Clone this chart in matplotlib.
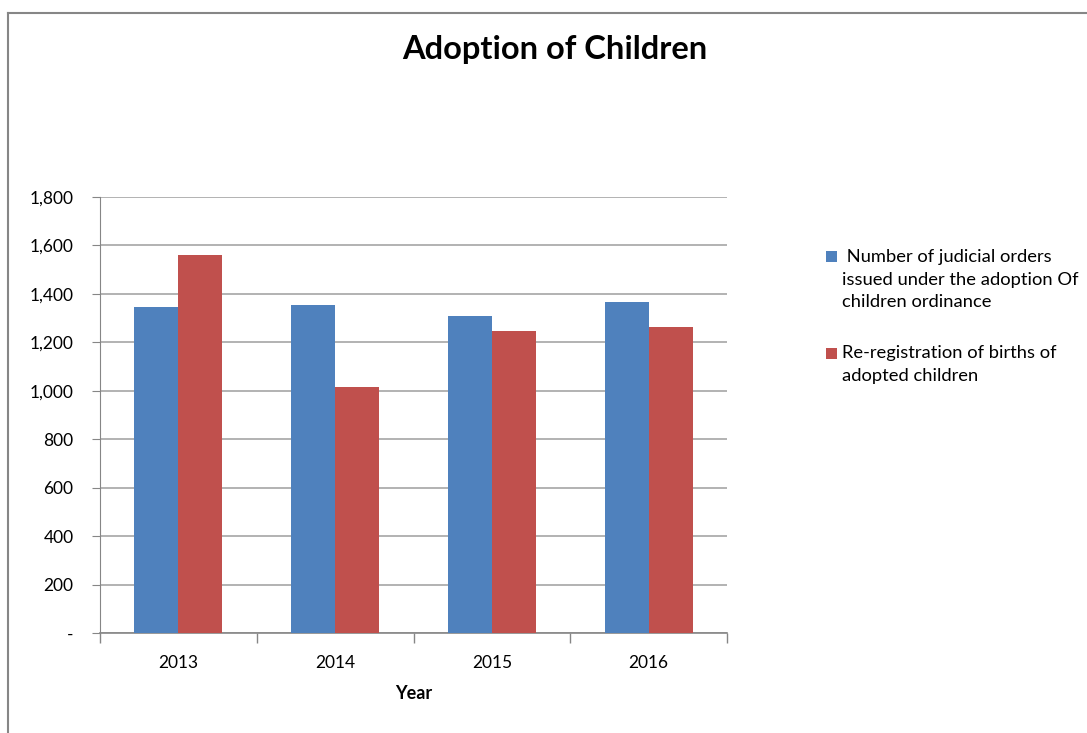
import matplotlib
matplotlib.use('Agg')
import matplotlib.pyplot as plt
from matplotlib.lines import Line2D
from matplotlib.patches import Rectangle
from matplotlib.ticker import FuncFormatter

plt.rcParams['font.family'] = ['Lato', 'DejaVu Sans']

years = ['2013', '2014', '2015', '2016']
judicial_orders = [1347, 1355, 1309, 1366]
re_registrations = [1561, 1015, 1245, 1265]
y_ticks = [0, 200, 400, 600, 800, 1000, 1200, 1400, 1600, 1800]

label_orders = ' Number of judicial orders\nissued under the adoption Of\nchildren ordinance'
label_rereg = 'Re-registration of births of\nadopted children'

blue = '#4F81BD'
red = '#C0504D'
grid_col = '#A6A6A6'

W, H = 1087, 733
fig = plt.figure(figsize=(W / 100, H / 100), dpi=100)
ax = fig.add_axes([100 / W, 1 - 633 / H, 627 / W, 436 / H])

x = list(range(len(years)))
bw = 0.28
b1 = ax.bar([i - bw / 2 for i in x], judicial_orders, width=bw, color=blue, label=label_orders, zorder=3)
b2 = ax.bar([i + bw / 2 for i in x], re_registrations, width=bw, color=red, label=label_rereg, zorder=3)

ax.set_xlim(-0.5, len(years) - 0.5)
ax.set_ylim(0, 1800)
ax.set_yticks(y_ticks)
ax.yaxis.set_major_formatter(FuncFormatter(lambda v, p: '-' if v == 0 else f'{int(v):,}'))
ax.yaxis.grid(True, color=grid_col, linewidth=1.2, zorder=0)

# category boundary ticks, labels centred between them
ax.set_xticks([i - 0.5 for i in range(len(years) + 1)])
ax.set_xticklabels([])
ax.set_xticks(x, minor=True)
ax.set_xticklabels(years, minor=True, fontsize=12.5)
ax.tick_params(axis='x', which='major', length=7, color='#868686', width=1)
ax.tick_params(axis='x', which='minor', length=0, pad=16)
ax.tick_params(axis='y', length=6, color='#868686', labelsize=12.5, pad=13)

for s in ['top', 'right']:
    ax.spines[s].set_visible(False)
ax.spines['left'].set_color('#868686')
ax.spines['bottom'].set_color('#868686')
ax.spines['bottom'].set_linewidth(1.2)

ax.set_xlabel('Year', fontsize=13, fontweight='bold', labelpad=10)
fig.text(555 / W, 1 - 50 / H, 'Adoption of Children', ha='center', va='center',
         fontsize=23.5, fontweight='bold')

# legend: square marker beside the first line of each wrapped label
for handle, label, top, sq in [(b1, label_orders, 249, 251), (b2, label_rereg, 345, 348)]:
    fig.add_artist(Rectangle((826 / W, 1 - (sq + 11) / H), 11 / W, 11 / H,
                             facecolor=handle.patches[0].get_facecolor(),
                             transform=fig.transFigure))
    fig.text(842 / W, 1 - top / H, label, ha='left', va='top', fontsize=13.2, linespacing=1.5)

# outer chart border
fig.add_artist(Line2D([8 / W, 1], [1 - 13 / H, 1 - 13 / H], color='#868686', lw=1.5, transform=fig.transFigure))
fig.add_artist(Line2D([8 / W, 8 / W], [0, 1 - 13 / H], color='#868686', lw=1.5, transform=fig.transFigure))

fig.savefig('out.png', dpi=100)
